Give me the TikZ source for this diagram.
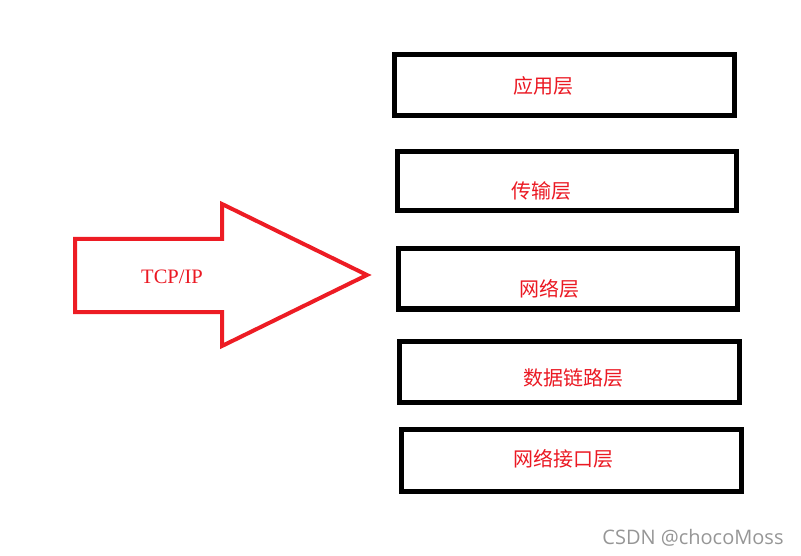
\documentclass[tikz,border=0pt]{standalone}
\usepackage{fontspec}
\setmainfont{Liberation Serif}
\newfontfamily\cjk{Noto Sans CJK SC}
\newfontfamily\wmfont{Open Sans}
\definecolor{arrowred}{RGB}{237,28,36}
\definecolor{txtred}{RGB}{235,25,35}
\definecolor{wmgray}{RGB}{150,150,150}
\begin{document}
\begin{tikzpicture}[x=1pt,y=-1pt,
  layerbox/.style={draw=black,line width=5pt,fill=white},
  layertext/.style={text=txtred,font=\cjk\fontsize{20}{20}\selectfont,inner sep=0pt},
  bigarrow/.style={draw=arrowred,line width=4pt,line join=miter,fill=white}]
\useasboundingbox (0,0) rectangle (801,556);
% boxes
\draw[layerbox] (394,55) rectangle (734,116);
\draw[layerbox] (397,152) rectangle (736,211);
\draw[layerbox] (398,249) rectangle (737,309);
\draw[layerbox] (399,341) rectangle (739,402);
\draw[layerbox] (401,429) rectangle (741,491);
% labels
\node[layertext] (l1) at (543,86) {应用层};
\node[layertext] (l2) at (541,191) {传输层};
\node[layertext] (l3) at (549,289) {网络层};
\node[layertext] (l4) at (573,378) {数据链路层};
\node[layertext] (l5) at (563,459) {网络接口层};
% arrow
\draw[bigarrow] (75,239) -- (222,239) -- (222,204) -- (367,275) -- (222,346) -- (222,312) -- (75,312) -- cycle;
\node[text=txtred,font=\fontsize{20.5}{20.5}\selectfont,inner sep=0pt] (tcp) at (172,277) {TCP/IP};
% watermark
\node[text=wmgray,font=\wmfont\fontsize{20}{20}\selectfont,inner sep=0pt] (wm) at (693,538) {CSDN @chocoMoss};
\end{tikzpicture}
\end{document}
